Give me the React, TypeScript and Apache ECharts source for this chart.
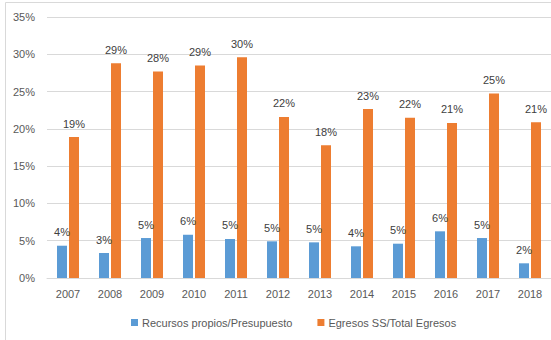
import React, { useEffect, useRef } from "react";
import * as echarts from "echarts";

const years = ["2007", "2008", "2009", "2010", "2011", "2012", "2013", "2014", "2015", "2016", "2017", "2018"];
const recursosPropios = [4.33, 3.35, 5.36, 5.8, 5.23, 4.92, 4.78, 4.25, 4.6, 6.26, 5.36, 1.97];
const egresosSS = [18.9, 28.8, 27.7, 28.5, 29.6, 21.6, 17.8, 22.65, 21.5, 20.8, 24.75, 20.9];
const seriesNames = ["Recursos propios/Presupuesto", "Egresos SS/Total Egresos"];

const FONT = "Liberation Sans";
const TXT = "#595959";

export default function App() {
  const ref = useRef<HTMLDivElement>(null);
  useEffect(() => {
    if (!ref.current) return;
    const chart = echarts.init(ref.current, null, { renderer: "svg" });
    const label = {
      show: true,
      position: "top" as const,
      distance: 8,
      color: "#404040",
      fontFamily: FONT,
      fontSize: 11,
      formatter: (p: any) => Math.round(p.value) + "%",
    };
    chart.setOption({
      animation: false,
      textStyle: { fontFamily: FONT },
      graphic: [
        {
          type: "rect",
          shape: { x: 5.5, y: 2.5, width: 600, height: 400 },
          style: { fill: "none", stroke: "#d9d9d9", lineWidth: 1 },
          silent: true,
        },
      ],
      grid: { left: 47, top: 17, width: 508, height: 261, containLabel: false },
      legend: {
        left: 126,
        top: 312,
        itemWidth: 7,
        itemHeight: 7,
        itemGap: 25,
        icon: "rect",
        textStyle: { color: TXT, fontFamily: FONT, fontSize: 11, padding: [0, 0, 0, -1] },
        data: seriesNames,
      },
      xAxis: {
        type: "category",
        data: years,
        axisLine: { lineStyle: { color: "#d9d9d9", width: 1 } },
        axisTick: { show: false },
        axisLabel: { color: TXT, fontFamily: FONT, fontSize: 11, margin: 10 },
      },
      yAxis: {
        type: "value",
        min: 0,
        max: 35,
        interval: 5,
        axisLine: { show: false },
        axisTick: { show: false },
        splitLine: { lineStyle: { color: "#d9d9d9", width: 1 } },
        axisLabel: { color: TXT, fontFamily: FONT, fontSize: 11, margin: 12, formatter: "{value}%" },
      },
      series: [
        {
          name: seriesNames[0],
          type: "bar",
          data: recursosPropios,
          barWidth: 10,
          barGap: "20%",
          itemStyle: { color: "#5b9bd5" },
          label,
        },
        {
          name: seriesNames[1],
          type: "bar",
          data: egresosSS,
          barWidth: 10,
          barGap: "20%",
          itemStyle: { color: "#ed7d31" },
          label,
        },
      ],
    });
    return () => chart.dispose();
  }, []);
  return <div ref={ref} style={{ width: 551, height: 340, position: "absolute", left: 0, top: 0 }} />;
}
